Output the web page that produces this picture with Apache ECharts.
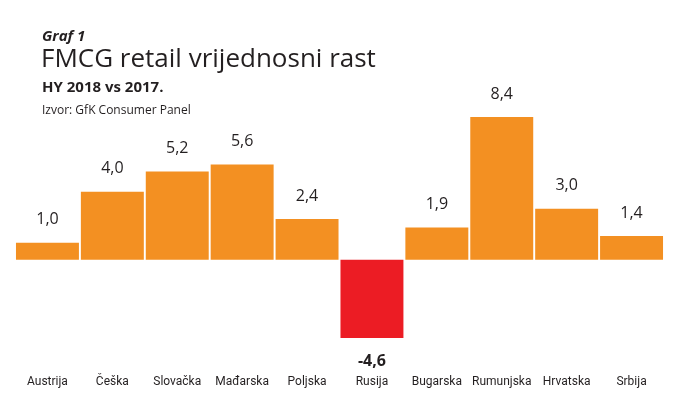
<!DOCTYPE html>
<html>
<head>
<meta charset="utf-8">
<script src="https://cdn.jsdelivr.net/npm/echarts@6/dist/echarts.min.js"></script>
<style>
  html, body { margin: 0; padding: 0; background: #fff; }
  #chart { width: 682px; height: 397px; }
</style>
</head>
<body>
<div id="chart"></div>
<script>
var countries = ["Austrija", "Češka", "Slovačka", "Mađarska", "Poljska", "Rusija", "Bugarska", "Rumunjska", "Hrvatska", "Srbija"];
var growth = [1.0, 4.0, 5.2, 5.6, 2.4, -4.6, 1.9, 8.4, 3.0, 1.4];

var ORANGE = "#F39022";
var RED = "#EC1C24";
var INK = "#231f20";

var bars = growth.map(function (v) {
  return {
    value: v,
    itemStyle: { color: v < 0 ? RED : ORANGE },
    label: { position: v < 0 ? "bottom" : "top", fontWeight: v < 0 ? "bold" : "normal" }
  };
});

var chart = echarts.init(document.getElementById("chart"));
chart.setOption({
  animation: false,
  backgroundColor: "#fff",
  title: [
    { text: "Graf 1", left: 42, top: 29, padding: 0, textStyle: { fontFamily: "Open Sans", fontStyle: "italic", fontWeight: "bold", fontSize: 15, color: INK } },
    { text: "FMCG retail vrijednosni rast", left: 41, top: 47, padding: 0, textStyle: { fontFamily: "Open Sans", fontWeight: "normal", fontSize: 26, color: INK } },
    { text: "HY 2018 vs 2017.", left: 42, top: 80, padding: 0, textStyle: { fontFamily: "Open Sans", fontWeight: "bold", fontSize: 15, color: INK } },
    { text: "Izvor: GfK Consumer Panel", left: 42, top: 105, padding: 0, textStyle: { fontFamily: "Open Sans", fontWeight: "normal", fontSize: 12, color: INK } }
  ],
  grid: { left: 15, right: 18, top: 117, bottom: 59, containLabel: false },
  xAxis: {
    type: "category",
    data: countries,
    axisLine: { show: false },
    axisTick: { show: false },
    axisLabel: {
      interval: 0,
      margin: 38,
      fontFamily: "Roboto",
      fontSize: 12,
      color: INK
    }
  },
  yAxis: {
    type: "value",
    min: -4.6,
    max: 8.4,
    show: false,
    splitLine: { show: false }
  },
  series: [{
    type: "bar",
    data: bars,
    barCategoryGap: "3%",
    label: {
      show: true,
      distance: 15,
      fontFamily: "Open Sans",
      fontSize: 16,
      color: INK,
      formatter: function (p) { return p.value.toFixed(1).replace(".", ","); }
    }
  }]
});
</script>
</body>
</html>
